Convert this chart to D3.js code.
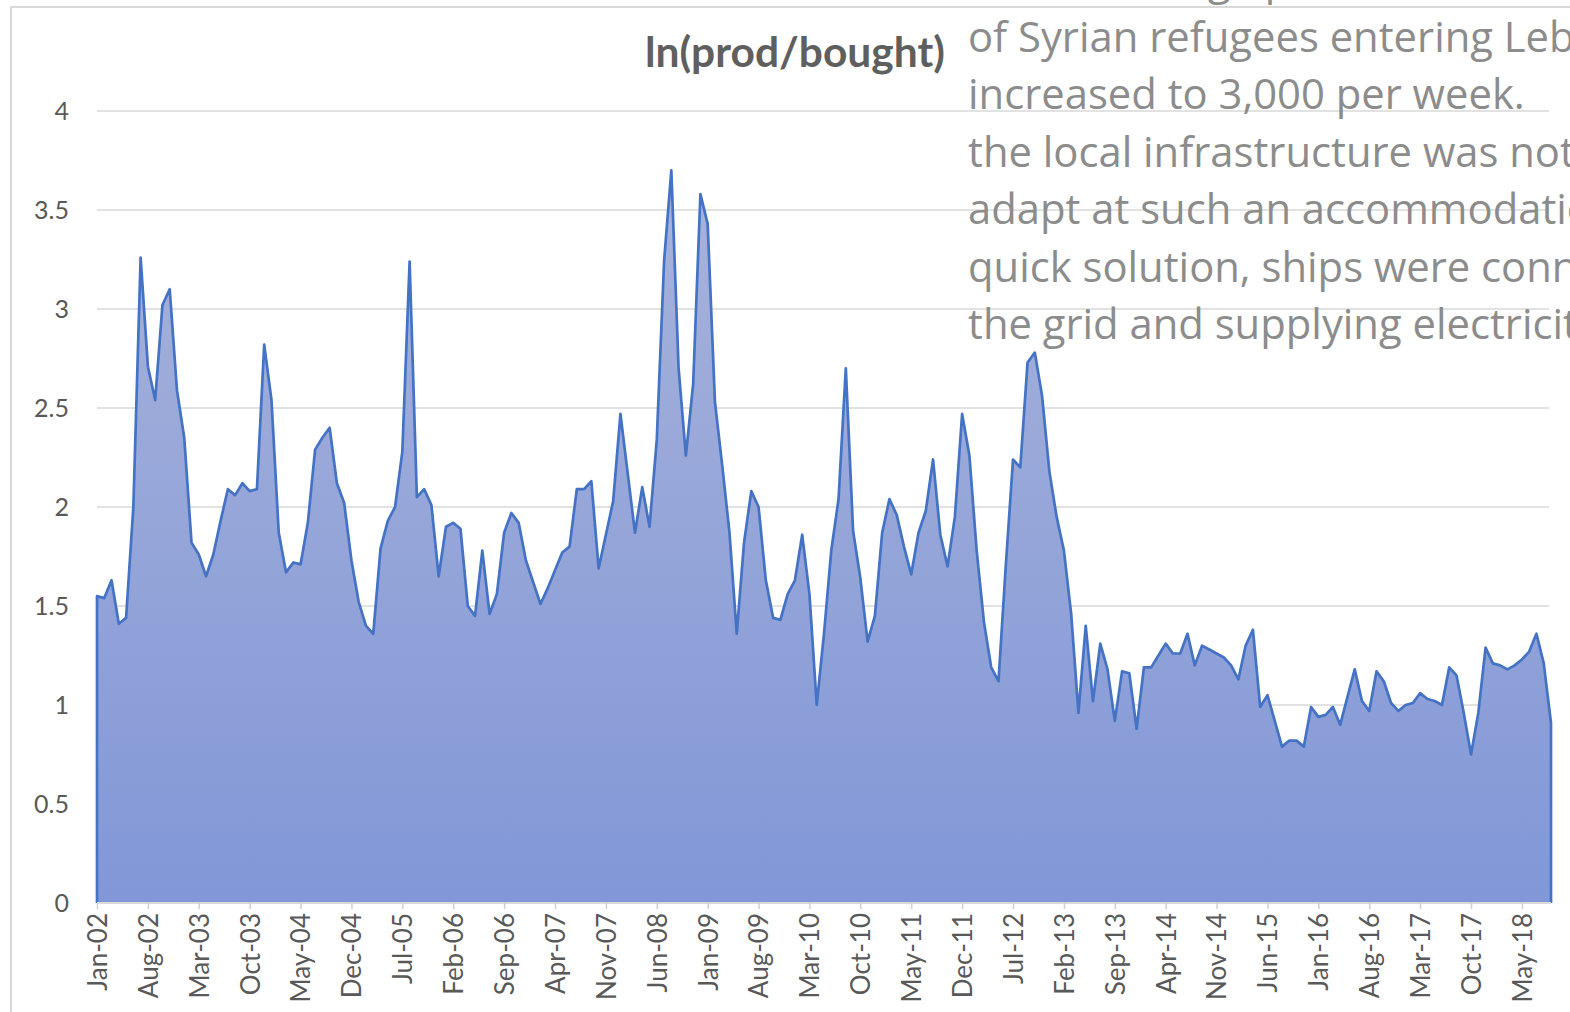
<!DOCTYPE html>
<html><head><meta charset="utf-8">
<script src="https://cdn.jsdelivr.net/npm/d3@7"></script>
<style>html,body{margin:0;padding:0;background:#fff;overflow:hidden}</style>
</head><body>
<svg id="chart" width="1570" height="1012"></svg>
<script>
// ---- data ----
const values = [
1.55,1.54,1.63,1.41,1.44,2.00,3.26,2.71,2.54,3.02,3.10,2.59,2.35,1.82,1.76,1.65,1.76,1.93,2.09,2.06,
2.12,2.08,2.09,2.82,2.54,1.87,1.67,1.72,1.71,1.92,2.29,2.35,2.40,2.12,2.02,1.73,1.52,1.40,1.36,1.79,
1.93,2.00,2.28,3.24,2.05,2.09,2.01,1.65,1.90,1.92,1.89,1.50,1.45,1.78,1.46,1.56,1.87,1.97,1.92,1.73,
1.62,1.51,1.59,1.68,1.77,1.80,2.09,2.09,2.13,1.69,1.86,2.03,2.47,2.17,1.87,2.10,1.90,2.34,3.24,3.70,
2.70,2.26,2.62,3.58,3.43,2.53,2.21,1.87,1.36,1.82,2.08,2.00,1.63,1.44,1.43,1.56,1.63,1.86,1.56,1.00,
1.36,1.78,2.04,2.70,1.88,1.64,1.32,1.45,1.87,2.04,1.96,1.80,1.66,1.87,1.98,2.24,1.86,1.70,1.95,2.47,
2.26,1.78,1.42,1.19,1.12,1.70,2.24,2.20,2.73,2.78,2.56,2.18,1.95,1.78,1.46,0.96,1.40,1.02,1.31,1.18,
0.92,1.17,1.16,0.88,1.19,1.19,1.25,1.31,1.26,1.26,1.36,1.20,1.30,1.28,1.26,1.24,1.20,1.13,1.30,1.38,
0.99,1.05,0.92,0.79,0.82,0.82,0.79,0.99,0.94,0.95,0.99,0.90,1.04,1.18,1.02,0.97,1.17,1.12,1.01,0.97,
1.00,1.01,1.06,1.03,1.02,1.00,1.19,1.15,0.96,0.75,0.96,1.29,1.21,1.20,1.18,1.20,1.23,1.27,1.36,1.21,
0.91];
const firstMonth = new Date(2002, 0, 1);
const monthFormat = d3.timeFormat("%b-%y");
const categories = d3.timeMonth.range(firstMonth, d3.timeMonth.offset(firstMonth, values.length)).map(monthFormat);
const tickLabels = ["Jan-02","Aug-02","Mar-03","Oct-03","May-04","Dec-04","Jul-05","Feb-06","Sep-06","Apr-07",
"Nov-07","Jun-08","Jan-09","Aug-09","Mar-10","Oct-10","May-11","Dec-11","Jul-12","Feb-13","Sep-13","Apr-14",
"Nov-14","Jun-15","Jan-16","Aug-16","Mar-17","Oct-17","May-18"];
const yTicks = [0,0.5,1,1.5,2,2.5,3,3.5,4];
const yTickLabels = ["0","0.5","1","1.5","2","2.5","3","3.5","4"];
const titleText = "ln(prod/bought)";
const noteLines = [
"In 2013 a huge peak in the number",
"of Syrian refugees entering Lebanon",
"increased to 3,000 per week.",
"the local infrastructure was not able to",
"adapt at such an accommodation. As a",
"quick solution, ships were connected to",
"the grid and supplying electricity."];

// ---- drawing ----
const svg = d3.select("#chart");
const x = d3.scalePoint().domain(categories).range([97, 1551]);
const y = d3.scaleLinear().domain([0, 4]).range([903, 111]);
const data = values.map((v, i) => ({cat: categories[i], v}));

// frame
svg.append("path").attr("d", "M11,1012 L11,7 L1570,7").attr("fill", "none")
  .attr("stroke", "#d9d9d9").attr("stroke-width", 2);

// gradient
const defs = svg.append("defs");
const grad = defs.append("linearGradient").attr("id", "fillGrad")
  .attr("gradientUnits", "userSpaceOnUse").attr("x1", 0).attr("x2", 0)
  .attr("y1", y(3.7)).attr("y2", y(0));
grad.append("stop").attr("offset", "0%").attr("stop-color", "#a8b3da");
grad.append("stop").attr("offset", "100%").attr("stop-color", "#8197d7");

// gridlines
svg.append("g").selectAll("line").data(yTicks.filter(t => t > 0)).join("line")
  .attr("x1", 97).attr("x2", 1549).attr("y1", d => y(d)).attr("y2", d => y(d))
  .attr("stroke", "#d9d9d9").attr("stroke-width", 1.5);

// area
const area = d3.area().x(d => x(d.cat)).y0(y(0)).y1(d => y(d.v));
svg.append("path").datum(data).attr("d", area).attr("fill", "url(#fillGrad)");
const line = d3.line().x(d => x(d.cat)).y(d => y(d.v));
const outline = [{cat: categories[0], v: 0}, ...data, {cat: categories[categories.length - 1], v: 0}];
svg.append("path").datum(outline).attr("d", line).attr("fill", "none")
  .attr("stroke", "#4472c4").attr("stroke-width", 2.7).attr("stroke-linejoin", "round");

// x axis
const xAxis = d3.axisBottom(x).tickValues(tickLabels).tickSize(6).tickPadding(10);
const gx = svg.append("g").attr("transform", `translate(0,${y(0)})`).call(xAxis);
gx.select(".domain").attr("stroke", "#d9d9d9").attr("stroke-width", 2).attr("d", "M97,0H1551");
gx.selectAll(".tick line").attr("stroke", "#d0d0d0").attr("stroke-width", 1.5);
gx.selectAll(".tick text")
  .attr("font-family", "Lato, 'Open Sans', sans-serif").attr("font-size", 26)
  .attr("fill", "#595959")
  .attr("transform", "rotate(-90)").attr("text-anchor", "end")
  .attr("x", -10).attr("y", 0).attr("dy", "0.36em");

// y axis labels
const yAxis = d3.axisLeft(y).tickValues(yTicks).tickFormat((d, i) => yTickLabels[i]).tickSize(0).tickPadding(0);
const gy = svg.append("g").attr("transform", "translate(69,0)").call(yAxis);
gy.select(".domain").remove();
gy.selectAll(".tick text").attr("font-family", "Lato, 'Open Sans', sans-serif")
  .attr("font-size", 25).attr("fill", "#595959");

// title
const title = svg.append("text").text(titleText)
  .attr("font-family", "Lato, 'Open Sans', sans-serif").attr("font-weight", "bold")
  .attr("font-size", 40).attr("fill", "#5f5f5f").attr("text-anchor", "middle")
  .attr("x", 795).attr("y", 67);
const tw = title.node().getComputedTextLength();
title.attr("font-size", 40 * 300 / tw);

// note text
const note = svg.append("text").attr("font-family", "'Open Sans', 'Noto Sans', sans-serif")
  .attr("font-size", 40).attr("fill", "#8c8c8c");
note.selectAll("tspan").data(noteLines).join("tspan")
  .attr("x", 968).attr("y", (d, i) => -5.5 + i * 57.4).text(d => d);
const probe = note.selectAll("tspan").filter((d, i) => i === 2).node().getComputedTextLength();
note.attr("font-size", 40 * 557 / probe);
</script>
</body></html>
